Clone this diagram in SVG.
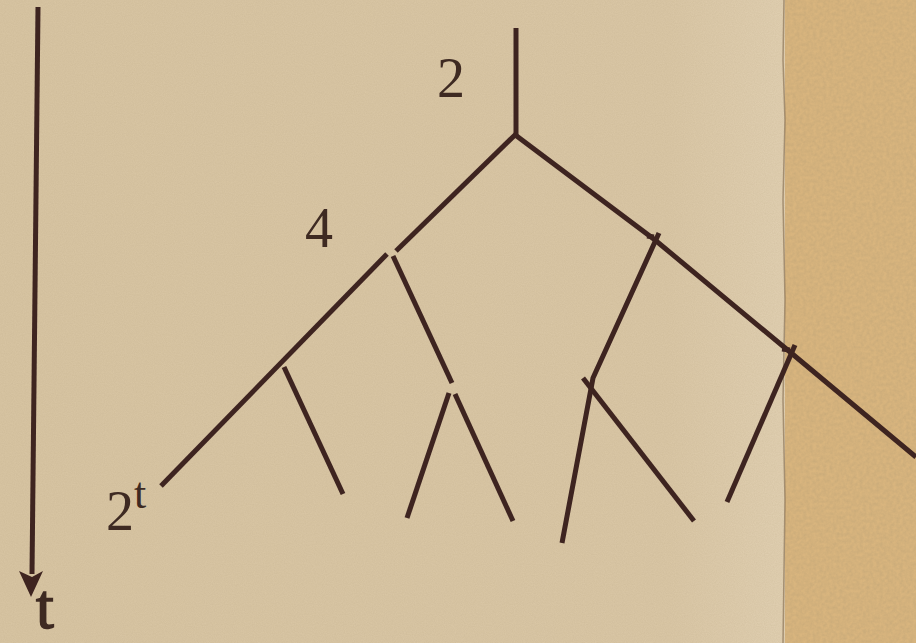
<svg xmlns="http://www.w3.org/2000/svg" width="916" height="643" viewBox="0 0 916 643">
  <defs>
    <filter id="grain" x="0" y="0" width="100%" height="100%">
      <feTurbulence type="fractalNoise" baseFrequency="0.9" numOctaves="2" seed="3" result="n"/>
      <feColorMatrix in="n" type="matrix" values="0 0 0 0 0.45  0 0 0 0 0.35  0 0 0 0 0.2  0 0 0 0.25 -0.02"/>
    </filter>
    <filter id="grain2" x="0" y="0" width="100%" height="100%">
      <feTurbulence type="fractalNoise" baseFrequency="0.3" numOctaves="3" seed="7" result="n"/>
      <feColorMatrix in="n" type="matrix" values="0 0 0 0 0.5  0 0 0 0 0.36  0 0 0 0 0.18  0 0 0 0.7 -0.15"/>
    </filter>
    <linearGradient id="paper" x1="0" y1="0" x2="1" y2="0">
      <stop offset="0" stop-color="#d8c5a3"/>
      <stop offset="0.85" stop-color="#dac7a6"/>
      <stop offset="1" stop-color="#e1d0b2"/>
    </linearGradient>
    <style>
      .ln { stroke: #3e2420; stroke-width: 5; fill: none; stroke-linecap: butt; stroke-linejoin: miter; }
      .lbl { font-family: "Liberation Serif", "DejaVu Serif", serif; fill: #3e2a22; }
    </style>
  </defs>

  <!-- background -->
  <rect x="0" y="0" width="785" height="643" fill="url(#paper)"/>
  <rect x="0" y="0" width="785" height="643" filter="url(#grain)"/>
  <rect x="785" y="0" width="131" height="643" fill="#d9b57e"/>
  <rect x="785" y="0" width="131" height="643" filter="url(#grain2)"/>
  <path d="M784,0 L783,60 L785,120 L783,200 L785,300 L783,400 L785,500 L783,643" stroke="#8c7558" stroke-width="1.5" fill="none" opacity="0.7"/>

  <!-- time axis -->
  <g id="axis">
    <line class="ln" x1="38" y1="7" x2="32" y2="574"/>
    <path d="M19,571 L31,597 L43,571 L32,577 Z" fill="#3e2420"/>
    <text class="lbl" x="36" y="628" font-size="64" stroke="#3e2a22" stroke-width="1.5">t</text>
  </g>

  <!-- labels -->
  <g id="label-2"><text class="lbl" x="437" y="97" font-size="56">2</text></g>
  <g id="label-4"><text class="lbl" x="305" y="247" font-size="56">4</text></g>
  <g id="label-2t"><text class="lbl" x="106" y="530" font-size="56">2<tspan dy="-22" font-size="44">t</tspan></text></g>

  <!-- tree connectors -->
  <g id="connectors">
    <line class="ln" x1="516" y1="28" x2="516" y2="137"/>
    <line class="ln" x1="516" y1="134" x2="396" y2="251"/>
    <line class="ln" x1="387" y1="254" x2="161" y2="486"/>
    <line class="ln" x1="393" y1="256" x2="452" y2="383"/>
    <line class="ln" x1="284" y1="367" x2="343" y2="494"/>
    <line class="ln" x1="449" y1="393" x2="407" y2="518"/>
    <line class="ln" x1="455" y1="394" x2="513" y2="521"/>
    <polyline class="ln" points="514,134 655,240 790,352 916,457"/>
    <polyline class="ln" points="659,233 593,378 562,543"/>
    <line class="ln" x1="583" y1="378" x2="694" y2="521"/>
    <line class="ln" x1="795" y1="345" x2="727" y2="502"/>
    <line class="ln" x1="647" y1="236" x2="654" y2="237" stroke-width="6"/>
    <line class="ln" x1="782" y1="349" x2="790" y2="350" stroke-width="5"/>
  </g>
</svg>
